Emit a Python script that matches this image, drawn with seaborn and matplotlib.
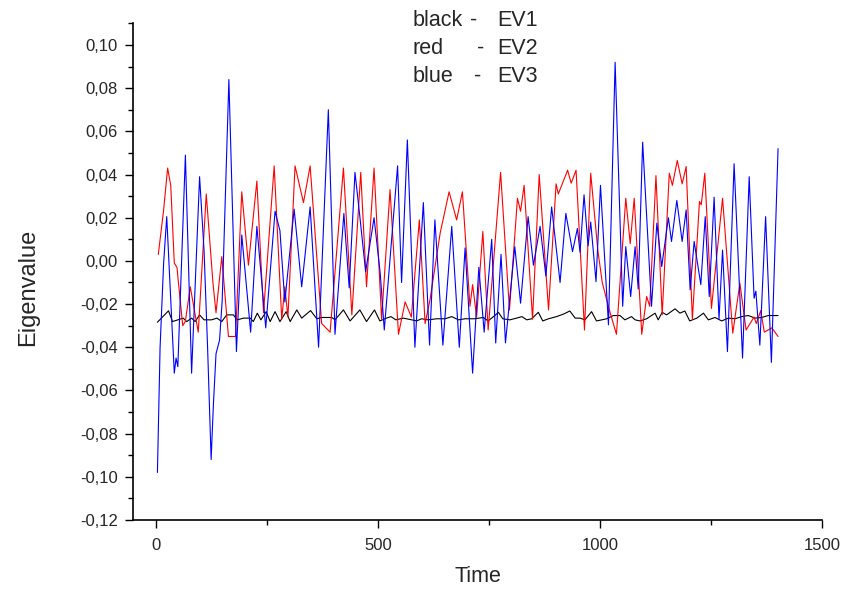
import numpy as np
import pandas as pd
import matplotlib
matplotlib.use("Agg")
import matplotlib.pyplot as plt
import seaborn as sns
from matplotlib.ticker import FuncFormatter, MultipleLocator

# ---------------- data ----------------
ev1_t = [3, 28, 37, 61, 69, 80, 88, 98, 108, 125, 137, 148, 159, 174, 183, 197, 212, 219,
         228, 236, 248, 257, 268, 279, 293, 302, 317, 328, 348, 362, 373, 396, 403, 422,
         437, 459, 474, 492, 504, 519, 529, 540, 557, 576, 587, 598, 613, 632, 651, 666,
         681, 696, 718, 737, 748, 763, 771, 781, 797, 812, 824, 835, 846, 861, 871, 884,
         902, 917, 932, 944, 955, 966, 981, 992, 1004, 1015, 1030, 1045, 1056, 1071, 1079,
         1090, 1105, 1124, 1131, 1140, 1150, 1169, 1180, 1191, 1202, 1218, 1233, 1244,
         1259, 1274, 1289, 1304, 1319, 1334, 1349, 1364, 1379, 1401]
ev1_v = [-0.0284, -0.0231, -0.0281, -0.0265, -0.0281, -0.0265, -0.0281, -0.0250, -0.0273,
         -0.0273, -0.0265, -0.0281, -0.0250, -0.0250, -0.0273, -0.0265, -0.0265, -0.0281,
         -0.0242, -0.0273, -0.0235, -0.0281, -0.0235, -0.0281, -0.0235, -0.0281, -0.0227,
         -0.0265, -0.0230, -0.0268, -0.0262, -0.0262, -0.0273, -0.0227, -0.0278, -0.0227,
         -0.0281, -0.0227, -0.0278, -0.0265, -0.0258, -0.0273, -0.0265, -0.0273, -0.0278,
         -0.0268, -0.0273, -0.0268, -0.0268, -0.0258, -0.0273, -0.0268, -0.0268, -0.0262,
         -0.0278, -0.0253, -0.0238, -0.0268, -0.0273, -0.0265, -0.0258, -0.0273, -0.0268,
         -0.0238, -0.0278, -0.0268, -0.0258, -0.0247, -0.0232, -0.0265, -0.0265, -0.0273,
         -0.0235, -0.0278, -0.0273, -0.0268, -0.0253, -0.0253, -0.0273, -0.0258, -0.0273,
         -0.0278, -0.0268, -0.0242, -0.0273, -0.0238, -0.0250, -0.0222, -0.0242, -0.0232,
         -0.0278, -0.0265, -0.0242, -0.0273, -0.0262, -0.0278, -0.0265, -0.0268, -0.0258,
         -0.0253, -0.0265, -0.0262, -0.0253, -0.0253]

ev2_t = [5, 17, 26, 33, 41, 47, 60, 66, 77, 95, 113, 128, 135, 148, 163, 179, 193, 208,
         227, 242, 266, 283, 290, 297, 313, 332, 347, 373, 392, 422, 441, 461, 474, 491,
         508, 527, 546, 561, 575, 593, 606, 617, 640, 660, 677, 690, 707, 713, 722, 736,
         748, 776, 796, 814, 821, 829, 848, 863, 884, 901, 906, 927, 935, 946, 965, 979,
         995, 1005, 1020, 1037, 1058, 1068, 1077, 1094, 1105, 1112, 1126, 1140, 1156, 1163,
         1174, 1185, 1194, 1208, 1224, 1228, 1236, 1251, 1276, 1299, 1315, 1329, 1347,
         1352, 1362, 1370, 1387, 1401]
ev2_v = [0.003, 0.0236, 0.043, 0.035, -0.001, -0.003, -0.030, -0.028, -0.012, -0.033,
         0.031, -0.010, -0.024, 0.002, -0.035, -0.035, 0.032, -0.002, 0.037, -0.024, 0.044,
         -0.027, -0.012, -0.026, 0.044, 0.027, 0.044, -0.029, -0.033, 0.043, -0.025, 0.041,
         -0.012, 0.043, -0.027, 0.033, -0.034, -0.019, -0.026, 0.019, -0.029, -0.018, 0.013,
         0.032, 0.019, 0.032, -0.021, -0.011, -0.026, 0.0136, -0.032, 0.041, -0.0227, 0.029,
         0.023, 0.035, -0.027, 0.040, -0.0227, 0.0357, 0.031, 0.042, 0.036, 0.042, -0.032,
         0.0406, 0.005, -0.010, -0.022, -0.034, 0.029, 0.008, 0.029, -0.034, -0.0165,
         -0.021, 0.0395, -0.025, 0.0406, 0.035, 0.0465, 0.0357, 0.0437, -0.027, 0.0275,
         0.026, 0.0406, -0.022, 0.029, -0.0335, -0.0103, -0.032, -0.026, -0.029, -0.023,
         -0.033, -0.031, -0.035]

ev3_t = [3, 9, 17, 24, 41, 45, 49, 66, 80, 98, 108, 116, 124, 129, 135, 143, 149, 164,
         181, 193, 213, 227, 247, 268, 279, 290, 311, 328, 347, 366, 388, 403, 423, 435,
         448, 459, 472, 491, 505, 514, 529, 544, 553, 566, 583, 602, 616, 628, 646, 666,
         683, 696, 713, 727, 739, 756, 765, 777, 787, 808, 821, 838, 850, 865, 878, 891,
         910, 923, 938, 949, 955, 964, 973, 979, 991, 1001, 1019, 1034, 1051, 1058, 1069,
         1079, 1086, 1096, 1116, 1128, 1139, 1154, 1161, 1173, 1185, 1194, 1203, 1212,
         1227, 1237, 1246, 1257, 1268, 1276, 1287, 1302, 1321, 1336, 1347, 1351, 1360,
         1373, 1386, 1401]
ev3_v = [-0.098, -0.040, -0.001, 0.0205, -0.052, -0.045, -0.049, 0.049, -0.052, 0.039,
         0.005, -0.040, -0.092, -0.067, -0.043, -0.0366, -0.018, 0.084, -0.042, 0.012,
         -0.033, 0.016, -0.031, 0.023, 0.014, -0.019, 0.024, -0.012, 0.025, -0.040, 0.070,
         -0.034, 0.022, -0.0125, 0.041, 0.0205, -0.005, 0.020, -0.006, -0.032, 0.006, 0.044,
         -0.010, 0.056, -0.040, 0.027, -0.039, 0.019, -0.039, 0.016, -0.040, 0.006, -0.052,
         -0.003, -0.033, 0.010, -0.038, 0.003, -0.038, 0.0066, -0.0196, 0.0205, -0.002,
         0.016, -0.007, 0.025, -0.010, 0.022, 0.0043, 0.015, 0.004, 0.0306, 0.007, 0.018,
         -0.0096, 0.035, -0.0296, 0.092, -0.021, 0.0066, -0.0165, 0.0066, -0.013, 0.055,
         -0.021, 0.0175, -0.0026, 0.020, 0.009, 0.028, 0.009, 0.0236, -0.0134, 0.009,
         -0.011, 0.0205, -0.0165, 0.0295, -0.027, 0.005, -0.042, 0.045, -0.045, 0.039,
         -0.0173, -0.014, -0.039, 0.0205, -0.047, 0.052]

series_names = ["EV1", "EV2", "EV3"]
series_colors = {"EV1": "#000000", "EV2": "#ff0000", "EV3": "#0000ff"}
legend_lines = [("black", "EV1"), ("red", "EV2"), ("blue", "EV3")]
x_ticks = [0, 500, 1000, 1500]

df = pd.concat([
    pd.DataFrame({"Time": ev1_t, "Eigenvalue": ev1_v, "Series": "EV1"}),
    pd.DataFrame({"Time": ev2_t, "Eigenvalue": ev2_v, "Series": "EV2"}),
    pd.DataFrame({"Time": ev3_t, "Eigenvalue": ev3_v, "Series": "EV3"}),
], ignore_index=True)

# ---------------- figure ----------------
sns.set_style("ticks")
plt.rcParams["font.family"] = ["Liberation Sans", "DejaVu Sans"]

W, H = 856, 589
fig = plt.figure(figsize=(W / 100, H / 100), dpi=100)
ax_left, ax_right, ax_top, ax_bottom = 133, 822, 23.4, 520
ax = fig.add_axes([ax_left / W, 1 - ax_bottom / H,
                   (ax_right - ax_left) / W, (ax_bottom - ax_top) / H])

sns.lineplot(data=df, x="Time", y="Eigenvalue", hue="Series",
             hue_order=series_names, palette=series_colors,
             estimator=None, sort=False, legend=False, linewidth=0.8, ax=ax)

ax.set_xlim(-52, 1500)
ax.set_ylim(-0.12, 0.11)
ax.set_xticks(x_ticks)
ax.xaxis.set_minor_locator(MultipleLocator(250))
ax.set_yticks(np.round(np.arange(-0.12, 0.1001, 0.02), 2))
ax.yaxis.set_minor_locator(MultipleLocator(0.01))

def fmt(v, pos):
    s = f"{v:.2f}".replace(".", ",")
    return "0,00" if s == "-0,00" else s

ax.yaxis.set_major_formatter(FuncFormatter(fmt))
ax.tick_params(which="major", length=6, width=1.0, direction="out",
               labelsize=12, pad=5, color="black")
ax.tick_params(which="minor", length=3.5, width=1.0, direction="out", color="black")
ax.tick_params(axis="x", which="major", pad=7)

for side in ("top", "right"):
    ax.spines[side].set_visible(False)
for side in ("left", "bottom"):
    ax.spines[side].set_linewidth(1.2)
    ax.spines[side].set_color("black")

ax.set_xlabel("")
ax.set_ylabel("")
fig.text(478 / W, 1 - 582 / H, "Time", ha="center", va="baseline", fontsize=15.5)
fig.text(28 / W, 1 - 287 / H, "Eigenvalue", ha="center", va="center",
         rotation=90, fontsize=17)

# legend-like text block
base_y = [26, 54, 82]
dash_x = [470, 477, 474]
for (name, ev), by, dx in zip(legend_lines, base_y, dash_x):
    fig.text(413 / W, 1 - by / H, name, ha="left", va="baseline", fontsize=15.5)
    fig.text(dx / W, 1 - by / H, "-", ha="left", va="baseline", fontsize=15.5)
    fig.text(497 / W, 1 - by / H, ev, ha="left", va="baseline", fontsize=15.5)

fig.savefig("out.png", dpi=100)
